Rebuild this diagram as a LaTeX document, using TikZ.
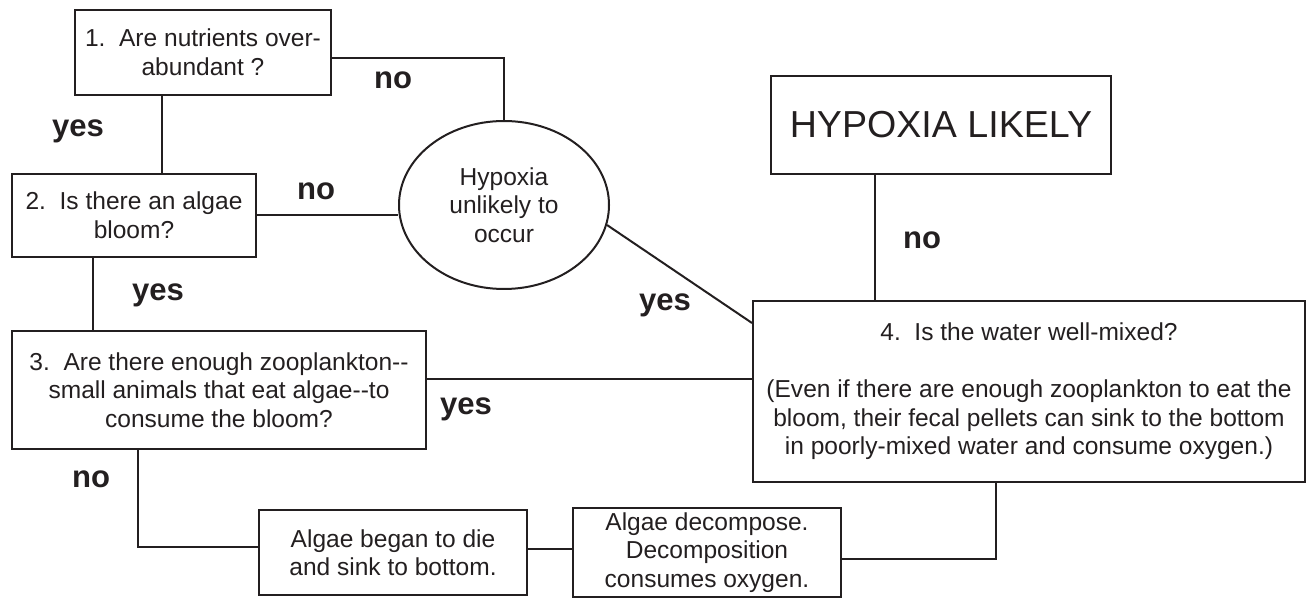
\documentclass[tikz,border=0pt]{standalone}
\usepackage{fontspec}
\setmainfont{Liberation Sans}
\usepackage{tikz}
\usetikzlibrary{shapes.geometric}
\usetikzlibrary{positioning}
\definecolor{ink}{HTML}{231F20}

\begin{document}
\begin{tikzpicture}[x=0.75pt,y=0.75pt,yscale=-1,xscale=1]
  \useasboundingbox (0,0) rectangle (1306,598); %same size as the reference
 \tikzstyle{qbox} = [draw=ink,line width=1.5pt,rectangle,inner sep=0pt,align=center,text=ink,font=\fontsize{18.4pt}{21.4pt}\selectfont]
 \tikzstyle{lbl} = [anchor=base,inner sep=0pt,text=ink,font=\bfseries\fontsize{23.3pt}{28pt}\selectfont]
 \tikzstyle{link} = [draw=ink,line width=1.5pt]

  %Draw the question boxes
 \node [qbox,minimum width=192pt,minimum height=63.75pt] (b1) at (203,52.5) {1.\ \ Are nutrients over-\\abundant ?};
 \node [qbox,minimum width=183pt,minimum height=62.25pt] (b2) at (134,215.5) {2.\ \ Is there an algae\\bloom?};
 \node [qbox,minimum width=310.5pt,minimum height=88.5pt] (b3) at (219,390) {3.\ \ Are there enough zooplankton-{}-\\small animals that eat algae-{}-to\\consume the bloom?};
 \node [qbox,minimum width=414pt,minimum height=135.75pt] (b4) at (1029,391.5) {4.\ \ Is the water well-mixed?\\ \\(Even if there are enough zooplankton to eat the\\bloom, their fecal pellets can sink to the bottom\\in poorly-mixed water and consume oxygen.)};
  %Outcomes
 \node [qbox,ellipse,minimum width=157.5pt,minimum height=126pt] (ell) at (504,205) {Hypoxia\\unlikely to\\occur};
 \node [qbox,minimum width=255pt,minimum height=73.5pt,font=\fontsize{28.2pt}{34pt}\selectfont] (hl) at (941,125) {HYPOXIA LIKELY};
 \node [qbox,minimum width=201pt,minimum height=63.75pt] (b5) at (393,552.5) {Algae began to die\\and sink to bottom.};
 \node [qbox,minimum width=201pt,minimum height=66.75pt] (b6) at (707,552.5) {Algae decompose.\\Decomposition\\consumes oxygen.};

  %Draw lines
  \draw [link] (b1.east |- 0,58) -| (ell.north);
  \draw [link] (b1.south -| 162,0) -- (b2.north -| 162,0);
  \draw [link] (b2.east) -- (b2.east -| ell.west);
  \draw [link] (b2.south -| 93,0) -- (b3.north -| 93,0);
  \draw [link] (ell.-11) -- (b4.north west |- 0,323);
  \draw [link] (b3.east |- 0,379) -- (b4.west |- 0,379);
  \draw [link] (hl.south -| 875,0) -- (b4.north -| 875,0);
  \draw [link] (b3.south -| 138,0) |- (b5.west |- 0,547);
  \draw [link] (b5.east |- 0,549) -- (b6.west |- 0,549);
  \draw [link] (b6.east |- 0,559) -| (b4.south -| 996,0);

  %Labelling
  \node [lbl] (no1) at (393,89) {no};
  \node [lbl] (yes1) at (78,137) {yes};
  \node [lbl] (no2) at (316,200) {no};
  \node [lbl] (yes2) at (158,301) {yes};
  \node [lbl] (yes3) at (665,311) {yes};
  \node [lbl] (yes4) at (466,414) {yes};
  \node [lbl] (no3) at (922,249) {no};
  \node [lbl] (no4) at (91,487) {no};

\end{tikzpicture}
\end{document}
